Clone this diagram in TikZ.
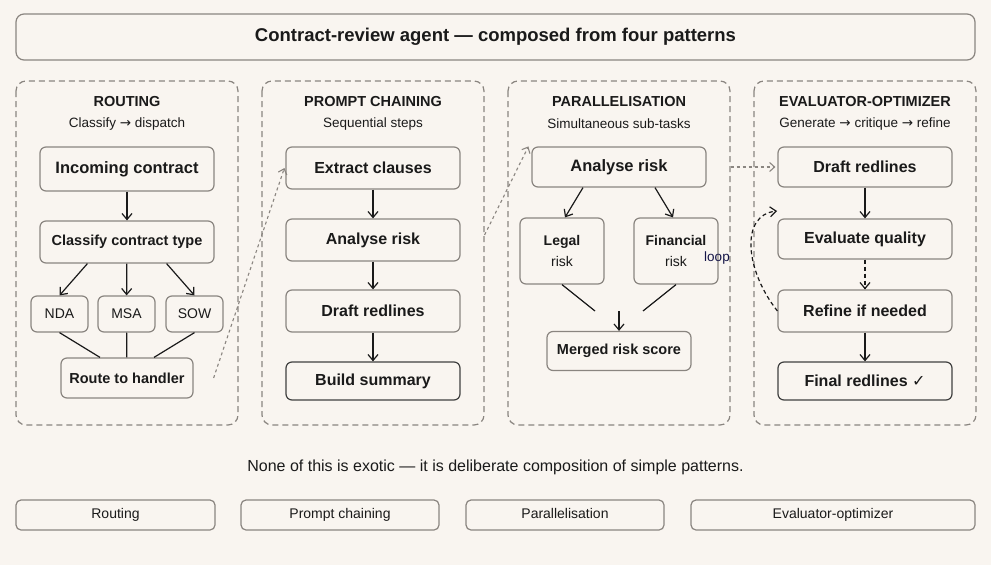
\documentclass[tikz,border=0pt]{standalone}
\usepackage{fontspec}
\setmainfont{Liberation Sans}
\newfontfamily\symf{DejaVu Sans}
\usetikzlibrary{arrows.meta}
\definecolor{bg}{HTML}{F9F5F0}
\definecolor{bd}{HTML}{8A8580}
\definecolor{tx}{HTML}{1A1A1A}
\begin{document}
\begin{tikzpicture}[x=1pt,y=-1pt,
 box/.style={draw=bd,line width=1.2pt,rounded corners=6pt,fill=bg,text=tx,font=\bfseries\fontsize{16}{19}\selectfont,align=center,inner sep=0pt},
 fin/.style={box,draw=black!75},
 sm/.style={box,font=\fontsize{14}{17}\selectfont},
 panel/.style={draw=bd,line width=1.2pt,rounded corners=10pt,dash pattern=on 6pt off 4pt},
 ar/.style={-{Straight Barb[length=6pt,width=10pt]},line width=1.2pt,draw=tx},
 ln/.style={line width=1.2pt,draw=tx},
 link/.style={-{Straight Barb[length=5pt,width=9pt]},line width=1.1pt,draw=bd,dash pattern=on 3pt off 3pt},
 hd/.style={font=\bfseries\fontsize{14.5}{17}\selectfont,text=tx},
 sub/.style={font=\fontsize{13.5}{16}\selectfont,text=tx},
 foot/.style={draw=bd,line width=1.2pt,rounded corners=5pt,fill=bg,font=\fontsize{14}{17}\selectfont,text=tx,text height=10pt,text depth=3pt}]
\fill[bg] (0,0) rectangle (991,565);
\useasboundingbox (0,0) rectangle (991,565);
\node[draw=bd,line width=1.2pt,rounded corners=8pt,fill=bg,minimum width=959pt,minimum height=46pt,font=\bfseries\fontsize{18.5}{22}\selectfont,text=tx] (title) at (495.5,37) {Contract-review agent — composed from four patterns};
\foreach \x/\n in {16/p1,262/p2,508/p3,754/p4}{\draw[panel] (\x,81) rectangle ++(222,344);}
\node[hd] (h1) at (127,102) {ROUTING};
\node[sub] (s1) at (127,124) {Classify {\symf→} dispatch};
\node[hd] (h2) at (373,102) {PROMPT CHAINING};
\node[sub] (s2) at (373,124) {Sequential steps};
\node[hd] (h3) at (619,102) {PARALLELISATION};
\node[sub] (s3) at (619,124) {Simultaneous sub-tasks};
\node[hd] (h4) at (865,102) {EVALUATOR-OPTIMIZER};
\node[sub] (s4) at (865,124) {Generate {\symf→} critique {\symf→} refine};
% P1
\node[box,minimum width=174pt,minimum height=44pt,font=\bfseries\fontsize{16.5}{19}\selectfont] (inc) at (127,169) {Incoming contract};
\node[box,minimum width=174pt,minimum height=42pt,font=\bfseries\fontsize{14.5}{17}\selectfont] (cls) at (127,242) {Classify contract type};
\node[sm,minimum width=57pt,minimum height=36pt] (nda) at (59.5,314) {NDA};
\node[sm,minimum width=57pt,minimum height=36pt] (msa) at (126.5,314) {MSA};
\node[sm,minimum width=57pt,minimum height=36pt] (sow) at (194.5,314) {SOW};
\node[box,minimum width=132pt,minimum height=40pt,font=\bfseries\fontsize{14.5}{17}\selectfont] (rte) at (127,378) {Route to handler};
\draw[ar] (inc) -- (cls);
\draw[ar] (cls.south west)++(48,0) -- (nda.north);
\draw[ar] (cls) -- (msa);
\draw[ar] (cls.south east)++(-48,0) -- (sow.north);
\draw[ln] (nda.south) -- ([xshift=-27pt]rte.north);
\draw[ln] (msa) -- (rte);
\draw[ln] (sow.south) -- ([xshift=27pt]rte.north);
% P2
\node[box,minimum width=174pt,minimum height=42pt] (ext) at (373,168) {Extract clauses};
\node[box,minimum width=174pt,minimum height=42pt] (ana) at (373,240) {Analyse risk};
\node[box,minimum width=174pt,minimum height=42pt] (drf) at (373,311) {Draft redlines};
\node[fin,minimum width=174pt,minimum height=38pt] (bld) at (373,381) {Build summary};
\draw[ar] (ext) -- (ana);
\draw[ar] (ana) -- (drf);
\draw[ar] (drf) -- (bld);
% P3
\node[box,minimum width=174pt,minimum height=40pt,font=\bfseries\fontsize{16.5}{19}\selectfont] (ar3) at (619,167) {Analyse risk};
\node[box,minimum width=84pt,minimum height=66pt,font=\fontsize{14}{21}\selectfont] (leg) at (562,251) {\textbf{Legal}\\risk};
\node[box,minimum width=84pt,minimum height=66pt,font=\fontsize{14}{21}\selectfont] (finr) at (676,251) {\textbf{Financial}\\risk};
\node[box,minimum width=144pt,minimum height=39pt,font=\bfseries\fontsize{14.5}{17}\selectfont] (mrg) at (619,351) {Merged risk score};
\coordinate (m1) at (595,311); \coordinate (m2) at (643,311); \coordinate (m3) at (619,311);
\draw[ar] ([xshift=-36pt]ar3.south) -- ([xshift=3pt]leg.north);
\draw[ar] ([xshift=36pt]ar3.south) -- ([xshift=-3pt]finr.north);
\draw[ln] (leg.south) -- (m1);
\draw[ln] (finr.south) -- (m2);
\draw[ar] (m3) -- (mrg);
\node[font=\fontsize{13.5}{15}\selectfont,text=tx!80!blue] (loop) at (717,258) {loop};
% P4
\node[box,minimum width=174pt,minimum height=40pt] (d4) at (865,167) {Draft redlines};
\node[box,minimum width=174pt,minimum height=40pt] (ev) at (865,239) {Evaluate quality};
\node[box,minimum width=174pt,minimum height=42pt] (rf) at (865,311) {Refine if needed};
\node[fin,minimum width=174pt,minimum height=38pt] (fr) at (865,381) {Final redlines {\symf✓}};
\draw[ar] (d4) -- (ev);
\draw[ar,dash pattern=on 4pt off 3pt] (ev) -- (rf);
\draw[ar] (rf) -- (fr);
\coordinate (lt) at (777,211);
\draw[ar,dash pattern=on 4pt off 3pt] (rf.west) .. controls (745,270) and (740,215) .. (lt);
% links
\draw[link] (rte.east)++(20,0) -- ([xshift=-1pt]ext.west);
\draw[link] (ana.east)++(24,-5) -- ([xshift=-3pt]ar3.north west);
\draw[link] (ar3.east)++(24,0) -- ([xshift=-2pt]d4.west |- ar3.east);
\node[font=\fontsize{16}{19}\selectfont,text=tx] (note) at (495.5,467) {None of this is exotic — it is deliberate composition of simple patterns.};
\node[foot,minimum width=199pt,minimum height=30pt] (f1) at (115.5,515) {Routing};
\node[foot,minimum width=198pt,minimum height=30pt] (f2) at (340,515) {Prompt chaining};
\node[foot,minimum width=198pt,minimum height=30pt] (f3) at (565,515) {Parallelisation};
\node[foot,minimum width=284pt,minimum height=30pt] (f4) at (833,515) {Evaluator-optimizer};
\end{tikzpicture}
\end{document}
